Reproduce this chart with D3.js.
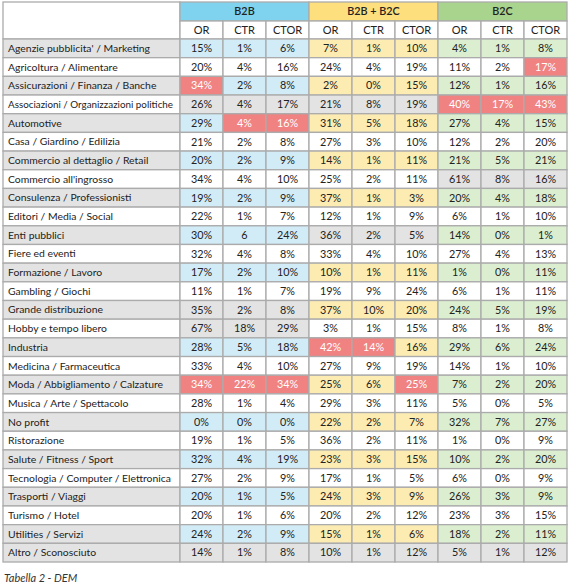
<!DOCTYPE html>
<html><head><meta charset="utf-8">
<script src="https://cdn.jsdelivr.net/npm/d3@7"></script>
<style>
html,body{margin:0;padding:0;background:#fff;}
svg{display:block;}
</style></head>
<body>
<svg id="chart" width="570" height="587"></svg>
<script>
const categories = [
"Agenzie pubblicita' / Marketing","Agricoltura / Alimentare","Assicurazioni / Finanza / Banche",
"Associazioni / Organizzazioni politiche","Automotive","Casa / Giardino / Edilizia",
"Commercio al dettaglio / Retail","Commercio all'ingrosso","Consulenza / Professionisti",
"Editori / Media / Social","Enti pubblici","Fiere ed eventi","Formazione / Lavoro",
"Gambling / Giochi","Grande distribuzione","Hobby e tempo libero","Industria",
"Medicina / Farmaceutica","Moda / Abbigliamento / Calzature","Musica / Arte / Spettacolo",
"No profit","Ristorazione","Salute / Fitness / Sport","Tecnologia / Computer / Elettronica",
"Trasporti / Viaggi","Turismo / Hotel","Utilities / Servizi","Altro / Sconosciuto"];
const groups = ["B2B","B2B + B2C","B2C"];
const metrics = ["OR","CTR","CTOR"];
// values per row: OR, CTR, CTOR
const b2b = [
["15%","1%","6%"],["20%","4%","16%"],["34%","2%","8%"],["26%","4%","17%"],["29%","4%","16%"],
["21%","2%","8%"],["20%","2%","9%"],["34%","4%","10%"],["19%","2%","9%"],["22%","1%","7%"],
["30%","6","24%"],["32%","4%","8%"],["17%","2%","10%"],["11%","1%","7%"],["35%","2%","8%"],
["67%","18%","29%"],["28%","5%","18%"],["33%","4%","10%"],["34%","22%","34%"],["28%","1%","4%"],
["0%","0%","0%"],["19%","1%","5%"],["32%","4%","19%"],["27%","2%","9%"],["20%","1%","5%"],
["20%","1%","6%"],["24%","2%","9%"],["14%","1%","8%"]];
const b2bc = [
["7%","1%","10%"],["24%","4%","19%"],["2%","0%","15%"],["21%","8%","19%"],["31%","5%","18%"],
["27%","3%","10%"],["14%","1%","11%"],["25%","2%","11%"],["37%","1%","3%"],["12%","1%","9%"],
["36%","2%","5%"],["33%","4%","10%"],["10%","1%","11%"],["19%","9%","24%"],["37%","10%","20%"],
["3%","1%","15%"],["42%","14%","16%"],["27%","9%","19%"],["25%","6%","25%"],["29%","3%","11%"],
["22%","2%","7%"],["36%","2%","11%"],["23%","3%","15%"],["17%","1%","5%"],["24%","3%","9%"],
["20%","2%","12%"],["15%","1%","6%"],["10%","1%","12%"]];
const b2c = [
["4%","1%","8%"],["11%","2%","17%"],["12%","1%","16%"],["40%","17%","43%"],["27%","4%","15%"],
["12%","2%","20%"],["21%","5%","21%"],["61%","8%","16%"],["20%","4%","18%"],["6%","1%","10%"],
["14%","0%","1%"],["27%","4%","13%"],["1%","0%","11%"],["6%","1%","11%"],["24%","5%","19%"],
["8%","1%","8%"],["29%","6%","24%"],["14%","1%","10%"],["7%","2%","20%"],["5%","0%","5%"],
["32%","7%","27%"],["1%","0%","9%"],["10%","2%","20%"],["6%","0%","9%"],["26%","3%","9%"],
["23%","3%","15%"],["18%","2%","11%"],["5%","1%","12%"]];
// cell marking per row (9 cells): w=plain, c=group tint, n=neutral grey, r=alert
const cellFlags = [
"ccccccccc","wwwwwwwwr","rcccccccc","nnnnnnrrr","crrcccccc","wwwwwwwww",
"ccccccccc","wwwwwwnnn","ccccccccc","wwwwwwwww","cccnnnccc","wwwwwwwww",
"ccccccccc","wwwwwwwww","nnncccccc","nnnwwwwww","cccrrcccc","wwwwwwwww",
"rrrccrccc","wwwwwwwww","ccccccccc","wwwwwwwww","ccccccccc","wwwwwwwww",
"ccccccccc","wwwwwwwww","ccccccccc","nnnnnnnnn"];
// label shading per row (1 = grey)
const labelShade = [1,0,1,0,1,0,1,0,1,0,1,0,1,0,1,0,1,0,1,0,1,0,1,0,1,0,1,1];
const caption = "Tabella 2 - DEM";

const headColors = ["#7fd3ee","#fedf7e","#a9d48e"];
const tintColors = ["#d2ecf7","#fdecb2","#dbefd0"];
const greyC = "#e3e3e3", redC = "#f08282", border = "#ababab";
const font = "Lato, 'Open Sans', sans-serif";

const svg = d3.select("#chart");
const tLeft = 3, labelW = 177, tTop = 2, tRight = 567;
const h1 = 19, h2 = 18, tBottom = 562;

const colKeys = d3.range(9);
const x = d3.scaleBand().domain(colKeys).range([tLeft + labelW, tRight]);
const groupX = d3.scaleBand().domain(groups).range([tLeft + labelW, tRight]);
const y = d3.scaleBand().domain(d3.range(categories.length)).range([tTop + h1 + h2, tBottom]);

const allVals = [b2b, b2bc, b2c];
const cells = [];
categories.forEach((cat, i) => {
  colKeys.forEach(j => {
    const g = Math.floor(j / 3), m = j % 3;
    cells.push({row: i, col: j, g, v: allVals[g][i][m], f: cellFlags[i][j]});
  });
});

const fillOf = d => d.f === "c" ? tintColors[d.g] : d.f === "n" ? greyC : d.f === "r" ? redC : "#fff";

// label column
svg.append("rect").attr("x", tLeft).attr("y", tTop).attr("width", labelW).attr("height", h1 + h2)
  .attr("fill", "#fff").attr("stroke", border).attr("stroke-width", 1.3);
svg.selectAll(".lab").data(categories).join("rect")
  .attr("x", tLeft).attr("y", (d, i) => y(i)).attr("width", labelW).attr("height", y.bandwidth())
  .attr("fill", (d, i) => labelShade[i] ? greyC : "#fff").attr("stroke", border).attr("stroke-width", 1.3);
svg.selectAll(".labt").data(categories).join("text")
  .attr("x", tLeft + 5).attr("y", (d, i) => y(i) + y.bandwidth() / 2).attr("dy", "0.35em")
  .attr("font-family", font).attr("font-size", 10.4).attr("fill", "#222").text(d => d)
  .each(function() {
    const maxW = 165;
    if (this.getComputedTextLength() > maxW) {
      d3.select(this).attr("textLength", maxW).attr("lengthAdjust", "spacingAndGlyphs");
    }
  });

// group headers
svg.selectAll(".gh").data(groups).join("rect")
  .attr("x", d => groupX(d)).attr("y", tTop).attr("width", groupX.bandwidth()).attr("height", h1)
  .attr("fill", (d, i) => headColors[i]).attr("stroke", border).attr("stroke-width", 1.3);
svg.selectAll(".ght").data(groups).join("text")
  .attr("x", d => groupX(d) + groupX.bandwidth() / 2).attr("y", tTop + h1 / 2).attr("dy", "0.35em")
  .attr("text-anchor", "middle").attr("font-family", font).attr("font-size", 10.8).attr("font-weight", 600)
  .attr("fill", "#222").text(d => d);

// metric headers
svg.selectAll(".mh").data(colKeys).join("rect")
  .attr("x", d => x(d)).attr("y", tTop + h1).attr("width", x.bandwidth()).attr("height", h2)
  .attr("fill", "#fff").attr("stroke", border).attr("stroke-width", 1.3);
svg.selectAll(".mht").data(colKeys).join("text")
  .attr("x", d => x(d) + x.bandwidth() / 2).attr("y", tTop + h1 + h2 / 2).attr("dy", "0.35em")
  .attr("text-anchor", "middle").attr("font-family", font).attr("font-size", 11)
  .attr("fill", "#222").text(d => metrics[d % 3]);

// data cells
svg.selectAll(".cell").data(cells).join("rect")
  .attr("x", d => x(d.col)).attr("y", d => y(d.row)).attr("width", x.bandwidth()).attr("height", y.bandwidth())
  .attr("fill", fillOf).attr("stroke", border).attr("stroke-width", 1.3);
svg.selectAll(".cellt").data(cells).join("text")
  .attr("x", d => x(d.col) + x.bandwidth() / 2).attr("y", d => y(d.row) + y.bandwidth() / 2).attr("dy", "0.35em")
  .attr("text-anchor", "middle").attr("font-family", font).attr("font-size", 10.8)
  .attr("fill", d => d.f === "r" ? "#fff" : "#222").text(d => d.v);

svg.append("text").attr("x", tLeft + 1).attr("y", 582)
  .attr("font-family", font).attr("font-size", 11).attr("font-style", "italic").attr("fill", "#333")
  .text(caption);
</script>
</body></html>
